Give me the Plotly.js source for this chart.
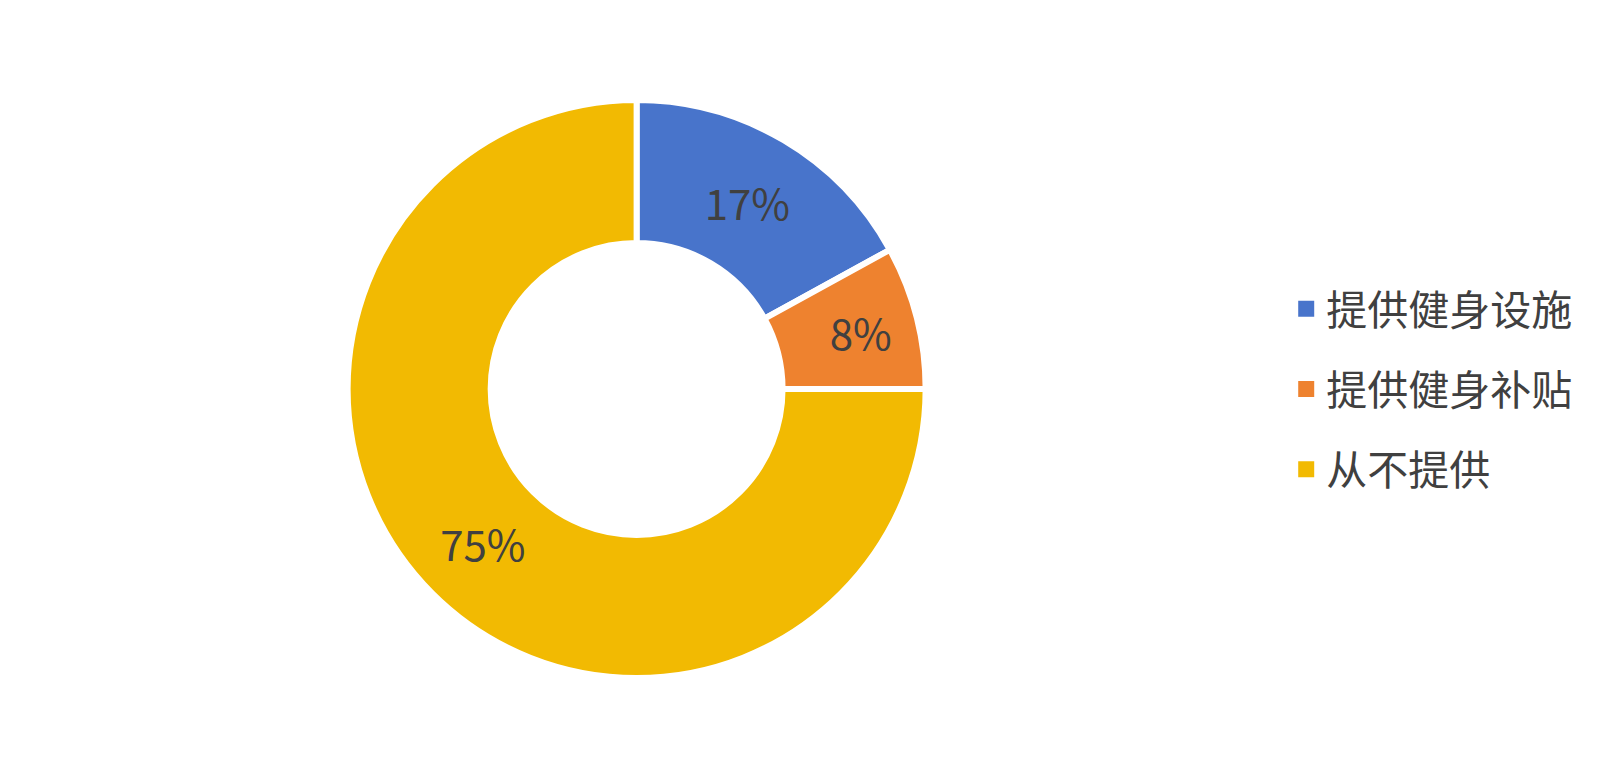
<!DOCTYPE html>
<html>
<head>
<meta charset="utf-8">
<script src="https://cdn.plot.ly/plotly-3.0.1.min.js"></script>
<style>html,body{margin:0;padding:0;background:#fff;}#chart{width:1624px;height:778px;}</style>
</head>
<body>
<div id="chart"></div>
<script>
const categories = ['提供健身设施', '提供健身补贴', '从不提供'];
const values = [17, 8, 75];
const colors = ['#4874CB', '#EE822F', '#F2BA02'];

const FONT = '"Noto Sans CJK SC", "Microsoft YaHei", sans-serif';

const pie = {
  type: 'pie',
  labels: categories,
  values: values,
  sort: false,
  direction: 'clockwise',
  rotation: 0,
  hole: 0.505,
  marker: { colors: colors, line: { color: '#ffffff', width: 6 } },
  texttemplate: '%{percent:.0%}',
  textposition: 'inside',
  insidetextorientation: 'horizontal',
  textfont: { family: FONT, size: 42, color: '#404040' },
  showlegend: false,
  hoverinfo: 'none',
  domain: { x: [0.192, 0.592], y: [0, 1] }
};

const legendTraces = categories.map((c, i) => ({
  type: 'scatter',
  x: [null], y: [null],
  mode: 'markers',
  name: c,
  legendgroup: 'g' + i,
  marker: { symbol: 'square', size: 16, color: colors[i] },
  hoverinfo: 'none'
}));

const layout = {
  width: 1624, height: 778,
  margin: { l: 0, r: 0, t: 100, b: 100 },
  paper_bgcolor: '#ffffff',
  plot_bgcolor: '#ffffff',
  xaxis: { visible: false },
  yaxis: { visible: false },
  showlegend: true,
  legend: {
    x: 0.792, xanchor: 'left',
    y: 0.5, yanchor: 'middle',
    font: { family: FONT, size: 41, color: '#404040' },
    tracegroupgap: 24,
    traceorder: 'grouped'
  },
  hovermode: false
};

Plotly.newPlot('chart', [pie].concat(legendTraces), layout, { displayModeBar: false, staticPlot: true });
</script>
</body>
</html>
